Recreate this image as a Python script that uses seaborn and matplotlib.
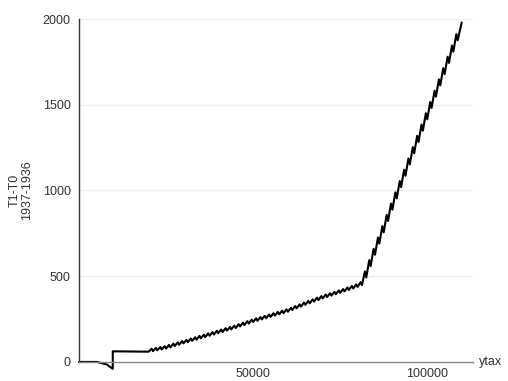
import matplotlib
matplotlib.use('Agg')
import matplotlib.pyplot as plt
import seaborn as sns
import pandas as pd

# start of the curve (before the saw-tooth part)
start_x = [0, 5200, 8000, 9700, 9700, 20000]
start_y = [0, 0, -15, -40, 62, 60]

# saw-tooth: peaks and troughs
peak_x = [20850, 22100, 23350, 24600, 25850, 27100, 28350, 29600, 30850,
          32100, 33350, 34600, 35850, 37100, 38350, 39600, 40850, 42100,
          43350, 44600, 45850, 47100, 48350, 49600, 50850, 52100, 53350,
          54600, 55850, 57100, 58350, 59600, 60850, 62100, 63350, 64600,
          65850, 67100, 68350, 69600, 70850, 72100, 73350, 74600, 75850,
          77100, 78350, 79600, 80850, 82100, 83350, 84600, 85850, 87100,
          88350, 89600, 90850, 92100, 93350, 94600, 95850, 97100, 98350,
          99600, 100850, 102100, 103350, 104600, 105850, 107100, 108350,
          109900]
peak_y = [77, 82, 87, 92, 99, 107, 114, 122, 129, 137, 144, 152, 159, 167,
          174, 182, 189, 197, 204, 212, 220, 229, 238, 247, 254, 262, 269,
          277, 284, 292, 299, 307, 316, 326, 336, 346, 356, 365, 375, 384,
          393, 401, 409, 417, 425, 434, 443, 452, 465, 528, 594, 660, 726,
          792, 858, 924, 989, 1055, 1121, 1187, 1253, 1319, 1385, 1451,
          1516, 1582, 1648, 1714, 1780, 1846, 1912, 1980]
trough_x = [21250, 22500, 23750, 25000, 26250, 27500, 28750, 30000, 31250,
            32500, 33750, 35000, 36250, 37500, 38750, 40000, 41250, 42500,
            43750, 45000, 46250, 47500, 48750, 50000, 51250, 52500, 53750,
            55000, 56250, 57500, 58750, 60000, 61250, 62500, 63750, 65000,
            66250, 67500, 68750, 70000, 71250, 72500, 73750, 75000, 76250,
            77500, 78750, 80000, 81250, 82500, 83750, 85000, 86250, 87500,
            88750, 90000, 91250, 92500, 93750, 95000, 96250, 97500, 98750,
            100000, 101250, 102500, 103750, 105000, 106250, 107500, 108750]
trough_y = [63, 68, 73, 78, 85, 93, 100, 108, 115, 123, 130, 138, 145, 153,
            160, 168, 175, 183, 190, 198, 207, 215, 224, 233, 240, 248, 255,
            263, 270, 278, 285, 293, 303, 313, 323, 333, 342, 352, 361, 371,
            379, 387, 395, 403, 412, 420, 429, 438, 448, 493, 559, 625, 690,
            756, 822, 888, 954, 1020, 1086, 1152, 1217, 1283, 1349, 1415,
            1481, 1547, 1613, 1679, 1744, 1810, 1876]

yticks = [0, 500, 1000, 1500, 2000]
xticks = [50000, 100000]

# put together the points in drawing order
xs = list(start_x)
ys = list(start_y)
for i in range(len(peak_x)):
    xs.append(peak_x[i])
    ys.append(peak_y[i])
    if i < len(trough_x):
        xs.append(trough_x[i])
        ys.append(trough_y[i])
df = pd.DataFrame({'ytax': xs, 'diff': ys})

sns.set_style('white')
plt.rcParams['font.family'] = ['Liberation Sans', 'DejaVu Sans']

fig = plt.figure(figsize=(5.08, 3.81), dpi=100)
ax = fig.add_axes([0.1555, 0.05, 0.776, 0.90])

for yv in yticks[1:]:
    ax.axhline(yv, color='#ececec', lw=0.8, zorder=0)

sns.lineplot(data=df, x='ytax', y='diff', sort=False, estimator=None,
             color='black', lw=1.5, ax=ax, clip_on=False)

ax.set_xlim(0, 113200)
ax.set_ylim(0, 2000)
ax.set_xticks(xticks)
ax.set_xticklabels([str(v) for v in xticks])
ax.set_yticks(yticks)
ax.set_yticklabels([str(v) for v in yticks])

for s in ['top', 'right']:
    ax.spines[s].set_visible(False)
ax.spines['left'].set_color('#333333')
ax.spines['bottom'].set_color('#888888')
ax.spines['left'].set_linewidth(1.0)
ax.spines['bottom'].set_linewidth(1.0)

ax.tick_params(axis='y', direction='out', length=4, width=0.8,
               color='#333333', labelsize=9, labelcolor='#333333', pad=2)
ax.tick_params(axis='x', direction='inout', length=6, width=0.8,
               color='#888888', labelsize=9, labelcolor='#333333', pad=1)

ax.set_xlabel('')
ax.set_ylabel('T1-T0\n1937-1936', fontsize=9, color='#333333', labelpad=7,
              linespacing=1.0)
ax.text(1.015, 0.0, 'ytax', transform=ax.transAxes, ha='left', va='center',
        fontsize=9, color='#333333')

fig.savefig('out.png', dpi=100)
